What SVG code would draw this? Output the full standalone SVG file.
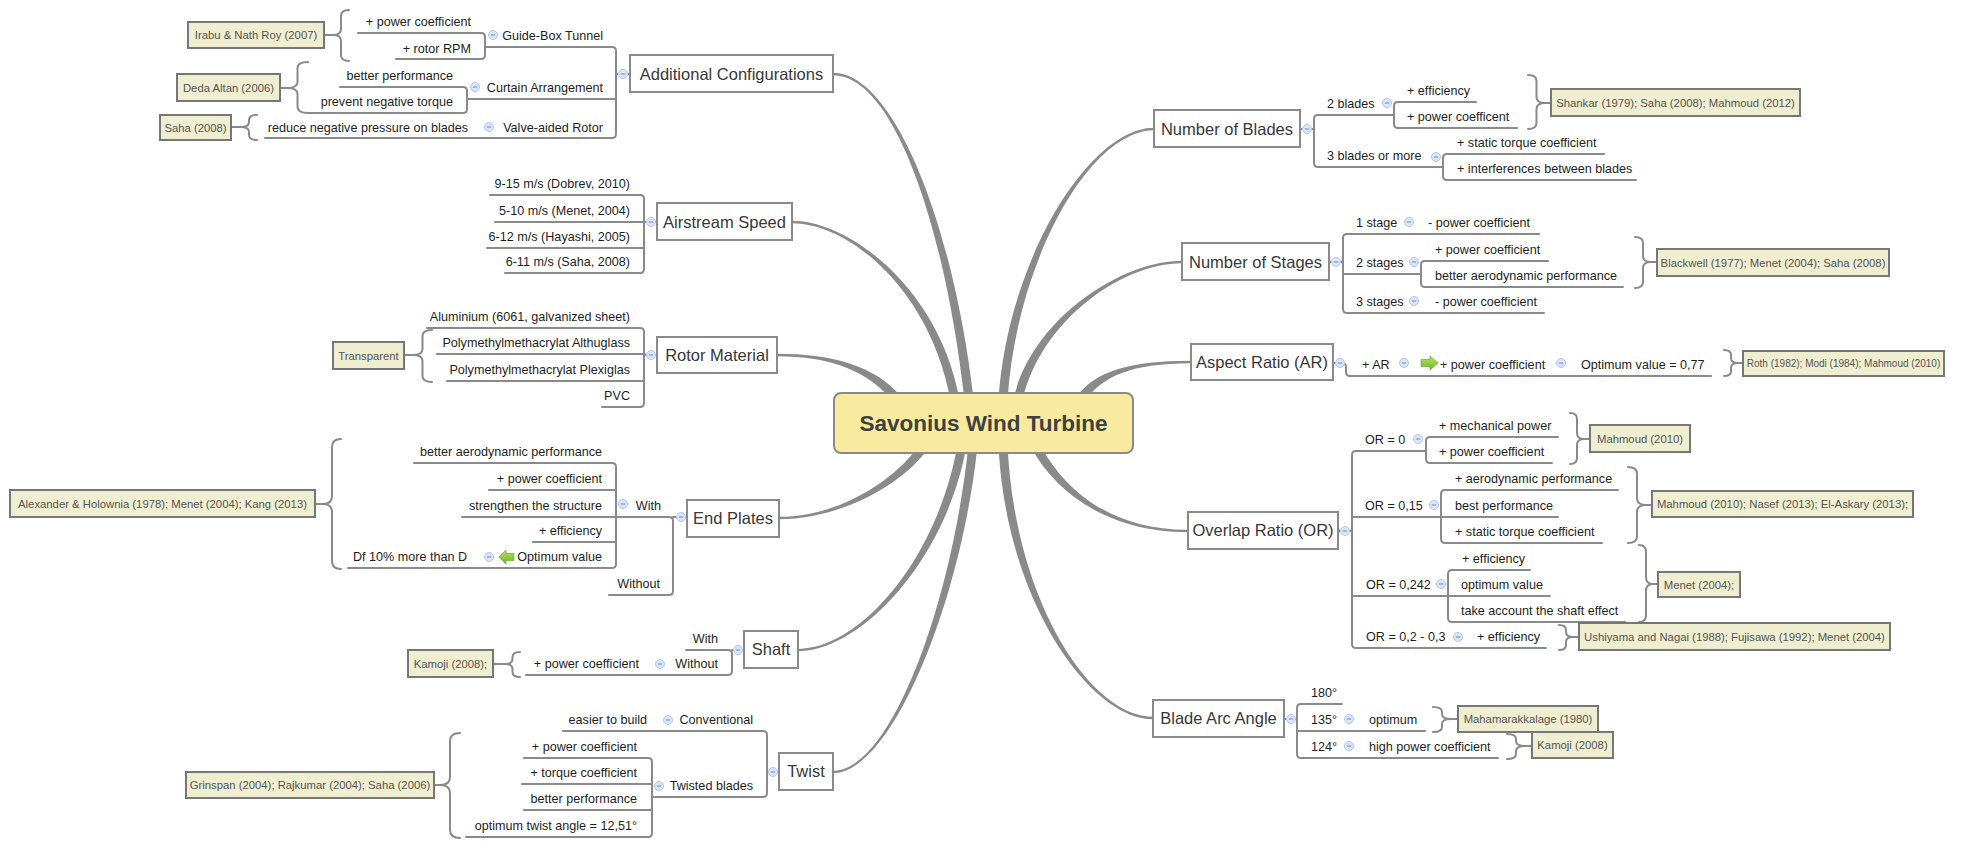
<svg xmlns="http://www.w3.org/2000/svg" xmlns:xlink="http://www.w3.org/1999/xlink" width="1978" height="843" viewBox="0 0 1978 843">
<style>
.ln{fill:none;stroke:#8a8a8a;stroke-width:2;stroke-linecap:round;stroke-linejoin:round}
.br{fill:none;stroke:#8a8a8a;stroke-width:2;stroke-linecap:round}
.cv{fill:#8a8a8a}
.mb{fill:#fff;stroke:#8a8a8a;stroke-width:2}
.nb{fill:#efeed1;stroke:#777;stroke-width:2}
text{font-family:"Liberation Sans",Arial,sans-serif}
.mt{font-size:16.5px;fill:#383838;text-anchor:middle}
.t{font-size:12.6px;fill:#1e1e1e}
.e{text-anchor:end}
.nt{font-size:11.3px;fill:#555;text-anchor:middle}
.ct{font-size:22.5px;font-weight:bold;fill:#404040;text-anchor:middle}
</style>
<defs>
<g id="cb"><circle r="4.5" fill="#dae5f7" stroke="#b3c7ea" stroke-width="1"/><path d="M-2.2,0H2.2" stroke="#7a9cd8" stroke-width="1.2"/></g>
<linearGradient id="ga" x1="0" y1="0" x2="0" y2="1"><stop offset="0" stop-color="#b8e45a"/><stop offset="1" stop-color="#6cb52d"/></linearGradient>
</defs>
<rect width="1978" height="843" fill="#fff"/>

<g id="connectors">
<!-- main tapered curves -->
<path class="cv" d="M833,75.2 C895,75.2 945.5,230.5 964.5,400.5 L973.5,399.5 C954.5,229.5 895,72.8 833,72.8 Z"/>
<path class="cv" d="M792,223.2 C850,223.2 930.6,290.8 950.6,400.8 L959.4,399.2 C939.4,289.2 850,220.8 792,220.8 Z"/>
<path class="cv" d="M777,356.2 C830,356.2 868.5,370.8 894.5,402.8 L901.5,397.2 C875.5,365.2 830,353.8 777,353.8 Z"/>
<path class="cv" d="M779,519.2 C840,519.2 903.7,484.5 928.7,447.5 L921.3,442.5 C896.3,479.5 840,516.8 779,516.8 Z"/>
<path class="cv" d="M798,651.2 C860,651.2 946.4,560.8 966.4,445.8 L957.6,444.2 C937.6,559.2 860,648.8 798,648.8 Z"/>
<path class="cv" d="M833,773.2 C892,773.2 961.5,600.5 977.5,445.5 L968.5,444.5 C952.5,599.5 892,770.8 833,770.8 Z"/>
<path class="cv" d="M1154,127.8 C1090,127.8 1007.5,259.7 998.5,399.7 L1007.5,400.3 C1016.5,260.3 1090,130.2 1154,130.2 Z"/>
<path class="cv" d="M1182,260.8 C1120,260.8 1030.6,321 1013.6,399 L1022.4,401 C1039.4,323 1120,263.2 1182,263.2 Z"/>
<path class="cv" d="M1191,360.8 C1130,360.8 1094.3,371.4 1076.3,397.4 L1083.7,402.6 C1101.7,376.6 1130,363.2 1191,363.2 Z"/>
<path class="cv" d="M1188,529.8 C1110,529.8 1064,489.9 1039,442.9 L1031,447.1 C1056,494.1 1110,532.2 1188,532.2 Z"/>
<path class="cv" d="M1153,716.8 C1090,716.8 1014.5,599.8 1007.5,444.8 L998.5,445.2 C1005.5,600.2 1090,719.2 1153,719.2 Z"/>

<!-- Additional Configurations -->
<path class="ln" d="M616,74H630"/>
<path class="ln" d="M485,47H612Q616,47 616,51V134Q616,138 612,138H265"/>
<path class="ln" d="M467,99H616"/>
<path class="ln" d="M358,33H481Q485,33 485,37V55Q485,59 481,59H396"/>
<path class="ln" d="M340,87H463Q467,87 467,91V109Q467,113 463,113H308"/>
<!-- Airstream -->
<path class="ln" d="M644,222H657"/>
<path class="ln" d="M490,195H640Q644,195 644,199V269Q644,273 640,273H505"/>
<path class="ln" d="M495,222H644M487,248H644"/>
<!-- Rotor -->
<path class="ln" d="M644,355H657"/>
<path class="ln" d="M427,328H640Q644,328 644,332V403Q644,407 640,407H602"/>
<path class="ln" d="M437,354H644M447,381H644"/>
<!-- End Plates -->
<path class="ln" d="M673,517H687"/>
<path class="ln" d="M462,517H669Q673,517 673,521V591Q673,595 669,595H609"/>
<path class="ln" d="M414,463H612Q616,463 616,467V564Q616,568 612,568H348"/>
<path class="ln" d="M489,490H616M533,542H616"/>
<!-- Shaft -->
<path class="ln" d="M732,650H744"/>
<path class="ln" d="M686,650H728Q732,650 732,654V671Q732,675 728,675H526"/>
<!-- Twist -->
<path class="ln" d="M767,772H779"/>
<path class="ln" d="M563,731H763Q767,731 767,735V793Q767,797 763,797H652"/>
<path class="ln" d="M524,758H648Q652,758 652,762V833Q652,837 648,837H466"/>
<path class="ln" d="M522,784H652M524,810H652"/>
<!-- Number of Blades -->
<path class="ln" d="M1300,129H1314"/>
<path class="ln" d="M1394,115H1318Q1314,115 1314,119V163Q1314,167 1318,167H1443"/>
<path class="ln" d="M1476,102H1398Q1394,102 1394,106V124Q1394,128 1398,128H1517"/>
<path class="ln" d="M1604,154H1447Q1443,154 1443,158V176Q1443,180 1447,180H1636"/>
<!-- Number of Stages -->
<path class="ln" d="M1329,262H1343"/>
<path class="ln" d="M1539,234H1347Q1343,234 1343,238V309Q1343,313 1347,313H1544"/>
<path class="ln" d="M1343,274H1421"/>
<path class="ln" d="M1548,261H1425Q1421,261 1421,265V283Q1421,287 1425,287H1623"/>
<!-- Aspect Ratio -->
<path class="ln" d="M1333,363H1342Q1346,363 1346,367V372Q1346,376 1350,376H1711"/>
<!-- Overlap Ratio -->
<path class="ln" d="M1338,531H1352"/>
<path class="ln" d="M1426,451H1356Q1352,451 1352,455V644Q1352,648 1356,648H1546"/>
<path class="ln" d="M1352,517H1558M1352,596H1550"/>
<path class="ln" d="M1558,437H1430Q1426,437 1426,441V459Q1426,463 1430,463H1552"/>
<path class="ln" d="M1618,490H1445Q1441,490 1441,494V539Q1441,543 1445,543H1602"/>
<path class="ln" d="M1530,570H1452Q1448,570 1448,574V618Q1448,622 1452,622H1625"/>
<!-- Blade Arc Angle -->
<path class="ln" d="M1284,719H1297"/>
<path class="ln" d="M1342,704H1301Q1297,704 1297,708V754Q1297,758 1301,758H1498"/>
<path class="ln" d="M1297,731H1425"/>

<!-- braces -->
<path class="br" d="M349,10Q341,10 341,16V29Q341,35 333,35Q341,35 341,41V55Q341,61 349,61M324,35H333"/>
<path class="br" d="M308,62Q297.5,62 297.5,68V82Q297.5,88 287,88Q297.5,88 297.5,94V107Q297.5,113 308,113M280,88H287"/>
<path class="br" d="M257,115Q249,115 249,120V122Q249,127 241,127Q249,127 249,132V135Q249,140 257,140M231,127H241"/>
<path class="br" d="M432,330Q422.5,330 422.5,336V349Q422.5,355 413,355Q422.5,355 422.5,361V376Q422.5,382 432,382M404,355H413"/>
<path class="br" d="M341,439Q332,439 332,447V496Q332,504 323,504Q332,504 332,512V561Q332,569 341,569M315,504H323"/>
<path class="br" d="M520,652Q512.5,652 512.5,657V659Q512.5,664 505,664Q512.5,664 512.5,669V672Q512.5,677 520,677M493,664H505"/>
<path class="br" d="M460,733Q450,733 450,741V777Q450,785 440,785Q450,785 450,793V830Q450,838 460,838M434,785H440"/>
<path class="br" d="M1528,75Q1536.5,75 1536.5,81V97Q1536.5,103 1545,103Q1536.5,103 1536.5,109V123Q1536.5,129 1528,129M1545,103H1551"/>
<path class="br" d="M1635,237Q1643,237 1643,243V256Q1643,262 1651,262Q1643,262 1643,268V282Q1643,288 1635,288M1651,262H1657"/>
<path class="br" d="M1724,350Q1731,350 1731,355V358Q1731,363 1738,363Q1731,363 1731,368V371Q1731,376 1724,376M1738,363H1743"/>
<path class="br" d="M1570,413Q1577,413 1577,419V433Q1577,439 1584,439Q1577,439 1577,445V458Q1577,464 1570,464M1584,439H1590"/>
<path class="br" d="M1628,467Q1637,467 1637,474V498Q1637,505 1646,505Q1637,505 1637,512V536Q1637,543 1628,543M1646,505H1652"/>
<path class="br" d="M1639,545Q1646,545 1646,552V577Q1646,584 1653,584Q1646,584 1646,591V615Q1646,622 1639,622M1653,584H1658"/>
<path class="br" d="M1559,625Q1566,625 1566,630V632Q1566,637 1573,637Q1566,637 1566,642V645Q1566,650 1559,650M1573,637H1579"/>
<path class="br" d="M1433,707Q1442,707 1442,712V714Q1442,719 1451,719Q1442,719 1442,724V727Q1442,732 1433,732M1451,719H1458"/>
<path class="br" d="M1507,734Q1516,734 1516,739V741Q1516,746 1525,746Q1516,746 1516,751V754Q1516,759 1507,759M1525,746H1532"/>

<!-- collapse buttons -->
<use href="#cb" x="623" y="74"/><use href="#cb" x="493" y="35"/><use href="#cb" x="475" y="87"/><use href="#cb" x="489" y="127"/>
<use href="#cb" x="651" y="222"/><use href="#cb" x="651" y="355"/><use href="#cb" x="681" y="517"/><use href="#cb" x="623" y="504"/>
<use href="#cb" x="489" y="557"/><use href="#cb" x="738" y="650"/><use href="#cb" x="660" y="664"/><use href="#cb" x="773" y="772"/>
<use href="#cb" x="668" y="720"/><use href="#cb" x="659" y="786"/>
<use href="#cb" x="1307" y="129"/><use href="#cb" x="1387" y="103"/><use href="#cb" x="1436" y="157"/><use href="#cb" x="1336" y="262"/>
<use href="#cb" x="1409" y="222"/><use href="#cb" x="1414" y="262"/><use href="#cb" x="1414" y="301"/><use href="#cb" x="1340" y="363"/>
<use href="#cb" x="1404" y="363"/><use href="#cb" x="1561" y="363"/><use href="#cb" x="1345" y="531"/><use href="#cb" x="1418" y="439"/>
<use href="#cb" x="1434" y="505"/><use href="#cb" x="1441" y="584"/><use href="#cb" x="1458" y="637"/><use href="#cb" x="1291" y="719"/>
<use href="#cb" x="1349" y="719"/><use href="#cb" x="1349" y="746"/>
<!-- green arrows -->
<polygon points="499,557 506,550 506,553.5 514,553.5 514,560.5 506,560.5 506,564" fill="url(#ga)" stroke="#5e9e27" stroke-width="0.6"/>
<polygon points="1438,363 1430,356 1430,359.5 1421,359.5 1421,366.5 1430,366.5 1430,370" fill="url(#ga)" stroke="#5e9e27" stroke-width="0.6"/>
</g>

<!-- central topic -->
<g id="center"><rect x="834" y="393" width="299" height="60" rx="7" fill="#f8ea9e" stroke="#8a8a8a" stroke-width="2"/><text class="ct" x="983.5" y="431">Savonius Wind Turbine</text></g>

<!-- Additional Configurations -->
<g id="additional-configurations"><rect class="mb" x="630" y="55" width="203" height="37"/><text class="mt" x="731.5" y="79.5">Additional Configurations</text></g>
<g id="guide-box-tunnel"><text class="t e" x="603" y="39.5">Guide-Box Tunnel</text></g>
<g id="gb-power"><text class="t e" x="471" y="26">+ power coefficient</text></g>
<g id="gb-rpm"><text class="t e" x="471" y="52.5">+ rotor RPM</text></g>
<g id="curtain-arrangement"><text class="t e" x="603" y="91.5">Curtain Arrangement</text></g>
<g id="ca-better"><text class="t e" x="453" y="80">better performance</text></g>
<g id="ca-prevent"><text class="t e" x="453" y="105.5">prevent negative torque</text></g>
<g id="valve-aided-rotor"><text class="t e" x="603" y="131.5">Valve-aided Rotor</text></g>
<g id="va-reduce"><text class="t e" x="468" y="131.5">reduce negative pressure on blades</text></g>
<g id="note-irabu"><rect class="nb" x="188" y="22" width="136" height="26"/><text class="nt" x="256" y="39">Irabu &amp; Nath Roy (2007)</text></g>
<g id="note-deda"><rect class="nb" x="177" y="74" width="103" height="27"/><text class="nt" x="228.5" y="91.5">Deda Altan (2006)</text></g>
<g id="note-saha2008"><rect class="nb" x="160" y="115" width="71" height="25"/><text class="nt" x="195.5" y="131.5">Saha (2008)</text></g>

<!-- Airstream Speed -->
<g id="airstream-speed"><rect class="mb" x="657" y="203" width="135" height="37"/><text class="mt" x="724.5" y="227.5">Airstream Speed</text></g>
<g id="as-1"><text class="t e" x="630" y="187.5">9-15 m/s (Dobrev, 2010)</text></g>
<g id="as-2"><text class="t e" x="630" y="214.5">5-10 m/s (Menet, 2004)</text></g>
<g id="as-3"><text class="t e" x="630" y="240.5">6-12 m/s (Hayashi, 2005)</text></g>
<g id="as-4"><text class="t e" x="630" y="265.5">6-11 m/s (Saha, 2008)</text></g>

<!-- Rotor Material -->
<g id="rotor-material"><rect class="mb" x="657" y="337" width="120" height="36"/><text class="mt" x="717" y="360.5">Rotor Material</text></g>
<g id="rm-1"><text class="t e" x="630" y="320.5">Aluminium (6061, galvanized sheet)</text></g>
<g id="rm-2"><text class="t e" x="630" y="346.5">Polymethylmethacrylat Althuglass</text></g>
<g id="rm-3"><text class="t e" x="630" y="373.5">Polymethylmethacrylat Plexiglas</text></g>
<g id="rm-4"><text class="t e" x="630" y="399.5">PVC</text></g>
<g id="note-transparent"><rect class="nb" x="333" y="342" width="71" height="27"/><text class="nt" x="368.5" y="359.5">Transparent</text></g>

<!-- End Plates -->
<g id="end-plates"><rect class="mb" x="687" y="500" width="92" height="37"/><text class="mt" x="733" y="524">End Plates</text></g>
<g id="ep-with"><text class="t e" x="661" y="509.5">With</text></g>
<g id="ep-without"><text class="t e" x="660" y="587.5">Without</text></g>
<g id="ep-1"><text class="t e" x="602" y="455.5">better aerodynamic performance</text></g>
<g id="ep-2"><text class="t e" x="602" y="482.5">+ power coefficient</text></g>
<g id="ep-3"><text class="t e" x="602" y="509.5">strengthen the structure</text></g>
<g id="ep-4"><text class="t e" x="602" y="534.5">+ efficiency</text></g>
<g id="ep-5"><text class="t e" x="602" y="560.5">Optimum value</text></g>
<g id="ep-df"><text class="t e" x="467" y="560.5">Df 10% more than D</text></g>
<g id="note-alexander"><rect class="nb" x="10" y="490" width="305" height="27"/><text class="nt" x="162.5" y="507.5">Alexander &amp; Holownia (1978); Menet (2004); Kang (2013)</text></g>

<!-- Shaft -->
<g id="shaft"><rect class="mb" x="744" y="631" width="54" height="37"/><text class="mt" x="771" y="655">Shaft</text></g>
<g id="sh-with"><text class="t e" x="718" y="642.5">With</text></g>
<g id="sh-without"><text class="t e" x="718" y="667.5">Without</text></g>
<g id="sh-power"><text class="t e" x="639" y="667.5">+ power coefficient</text></g>
<g id="note-kamoji-shaft"><rect class="nb" x="408" y="650" width="85" height="27"/><text class="nt" x="450.5" y="667.5">Kamoji (2008);</text></g>

<!-- Twist -->
<g id="twist"><rect class="mb" x="779" y="753" width="54" height="37"/><text class="mt" x="806" y="777">Twist</text></g>
<g id="tw-conventional"><text class="t e" x="753" y="723.5">Conventional</text></g>
<g id="tw-easier"><text class="t e" x="647" y="723.5">easier to build</text></g>
<g id="tw-twisted"><text class="t e" x="753" y="789.5">Twisted blades</text></g>
<g id="tw-1"><text class="t e" x="637" y="750.5">+ power coefficient</text></g>
<g id="tw-2"><text class="t e" x="637" y="776.5">+ torque coefficient</text></g>
<g id="tw-3"><text class="t e" x="637" y="802.5">better performance</text></g>
<g id="tw-4"><text class="t e" x="637" y="829.5">optimum twist angle = 12,51°</text></g>
<g id="note-grinspan"><rect class="nb" x="186" y="772" width="248" height="26"/><text class="nt" x="310" y="789">Grinspan (2004); Rajkumar (2004); Saha (2006)</text></g>

<!-- Number of Blades -->
<g id="number-of-blades"><rect class="mb" x="1154" y="110" width="146" height="37"/><text class="mt" x="1227" y="134.5">Number of Blades</text></g>
<g id="nb-2"><text class="t" x="1327" y="107.5">2 blades</text></g>
<g id="nb-2a"><text class="t" x="1407" y="94.5">+ efficiency</text></g>
<g id="nb-2b"><text class="t" x="1407" y="120.5">+ power coefficent</text></g>
<g id="nb-3"><text class="t" x="1327" y="159.5">3 blades or more</text></g>
<g id="nb-3a"><text class="t" x="1457" y="146.5">+ static torque coefficient</text></g>
<g id="nb-3b"><text class="t" x="1457" y="172.5">+ interferences between blades</text></g>
<g id="note-shankar"><rect class="nb" x="1551" y="89" width="249" height="27"/><text class="nt" x="1675.5" y="106.5">Shankar (1979); Saha (2008); Mahmoud (2012)</text></g>

<!-- Number of Stages -->
<g id="number-of-stages"><rect class="mb" x="1182" y="243" width="147" height="37"/><text class="mt" x="1255.5" y="267.5">Number of Stages</text></g>
<g id="ns-1"><text class="t" x="1356" y="226.5">1 stage</text></g>
<g id="ns-1a"><text class="t" x="1428" y="226.5">- power coefficient</text></g>
<g id="ns-2"><text class="t" x="1356" y="266.5">2 stages</text></g>
<g id="ns-2a"><text class="t" x="1435" y="253.5">+ power coefficient</text></g>
<g id="ns-2b"><text class="t" x="1435" y="279.5">better aerodynamic performance</text></g>
<g id="ns-3"><text class="t" x="1356" y="305.5">3 stages</text></g>
<g id="ns-3a"><text class="t" x="1435" y="305.5">- power coefficient</text></g>
<g id="note-blackwell"><rect class="nb" x="1657" y="249" width="232" height="27"/><text class="nt" x="1773" y="266.5">Blackwell (1977); Menet (2004); Saha (2008)</text></g>

<!-- Aspect Ratio -->
<g id="aspect-ratio"><rect class="mb" x="1191" y="344" width="142" height="36"/><text class="mt" x="1262" y="367.5">Aspect Ratio (AR)</text></g>
<g id="ar-1"><text class="t" x="1362" y="368.5">+ AR</text></g>
<g id="ar-2"><text class="t" x="1440" y="368.5">+ power coefficient</text></g>
<g id="ar-3"><text class="t" x="1581" y="368.5">Optimum value = 0,77</text></g>
<g id="note-roth"><rect class="nb" x="1743" y="351" width="201" height="25"/><text class="nt" x="1843.5" y="367" style="font-size:10px">Roth (1982); Modi (1984); Mahmoud (2010)</text></g>

<!-- Overlap Ratio -->
<g id="overlap-ratio"><rect class="mb" x="1188" y="512" width="150" height="37"/><text class="mt" x="1263" y="536">Overlap Ratio (OR)</text></g>
<g id="or-0"><text class="t" x="1365" y="443.5">OR = 0</text></g>
<g id="or-0a"><text class="t" x="1439" y="429.5">+ mechanical power</text></g>
<g id="or-0b"><text class="t" x="1439" y="455.5">+ power coefficient</text></g>
<g id="or-15"><text class="t" x="1365" y="509.5">OR = 0,15</text></g>
<g id="or-15a"><text class="t" x="1455" y="482.5">+ aerodynamic performance</text></g>
<g id="or-15b"><text class="t" x="1455" y="509.5">best performance</text></g>
<g id="or-15c"><text class="t" x="1455" y="535.5">+ static torque coefficient</text></g>
<g id="or-242"><text class="t" x="1366" y="588.5">OR = 0,242</text></g>
<g id="or-242a"><text class="t" x="1462" y="562.5">+ efficiency</text></g>
<g id="or-242b"><text class="t" x="1461" y="588.5">optimum value</text></g>
<g id="or-242c"><text class="t" x="1461" y="614.5">take account the shaft effect</text></g>
<g id="or-23"><text class="t" x="1366" y="641">OR = 0,2 - 0,3</text></g>
<g id="or-23a"><text class="t" x="1477" y="641">+ efficiency</text></g>
<g id="note-mahmoud2010"><rect class="nb" x="1590" y="425" width="100" height="27"/><text class="nt" x="1640" y="442.5">Mahmoud (2010)</text></g>
<g id="note-nasef"><rect class="nb" x="1652" y="491" width="261" height="26"/><text class="nt" x="1782.5" y="508">Mahmoud (2010); Nasef (2013); El-Askary (2013);</text></g>
<g id="note-menet"><rect class="nb" x="1658" y="572" width="82" height="25"/><text class="nt" x="1699" y="588.5">Menet (2004);</text></g>
<g id="note-ushiyama"><rect class="nb" x="1579" y="623" width="311" height="27"/><text class="nt" x="1734.5" y="640.5">Ushiyama and Nagai (1988); Fujisawa (1992); Menet (2004)</text></g>

<!-- Blade Arc Angle -->
<g id="blade-arc-angle"><rect class="mb" x="1153" y="700" width="131" height="37"/><text class="mt" x="1218.5" y="724">Blade Arc Angle</text></g>
<g id="ba-180"><text class="t" x="1311" y="697">180°</text></g>
<g id="ba-135"><text class="t" x="1311" y="723.5">135°</text></g>
<g id="ba-opt"><text class="t" x="1369" y="723.5">optimum</text></g>
<g id="ba-124"><text class="t" x="1311" y="750.5">124°</text></g>
<g id="ba-high"><text class="t" x="1369" y="750.5">high power coefficient</text></g>
<g id="note-mahamarakkalage"><rect class="nb" x="1458" y="706" width="140" height="26"/><text class="nt" x="1528" y="723">Mahamarakkalage (1980)</text></g>
<g id="note-kamoji-arc"><rect class="nb" x="1532" y="732" width="81" height="26"/><text class="nt" x="1572.5" y="749">Kamoji (2008)</text></g>
</svg>
